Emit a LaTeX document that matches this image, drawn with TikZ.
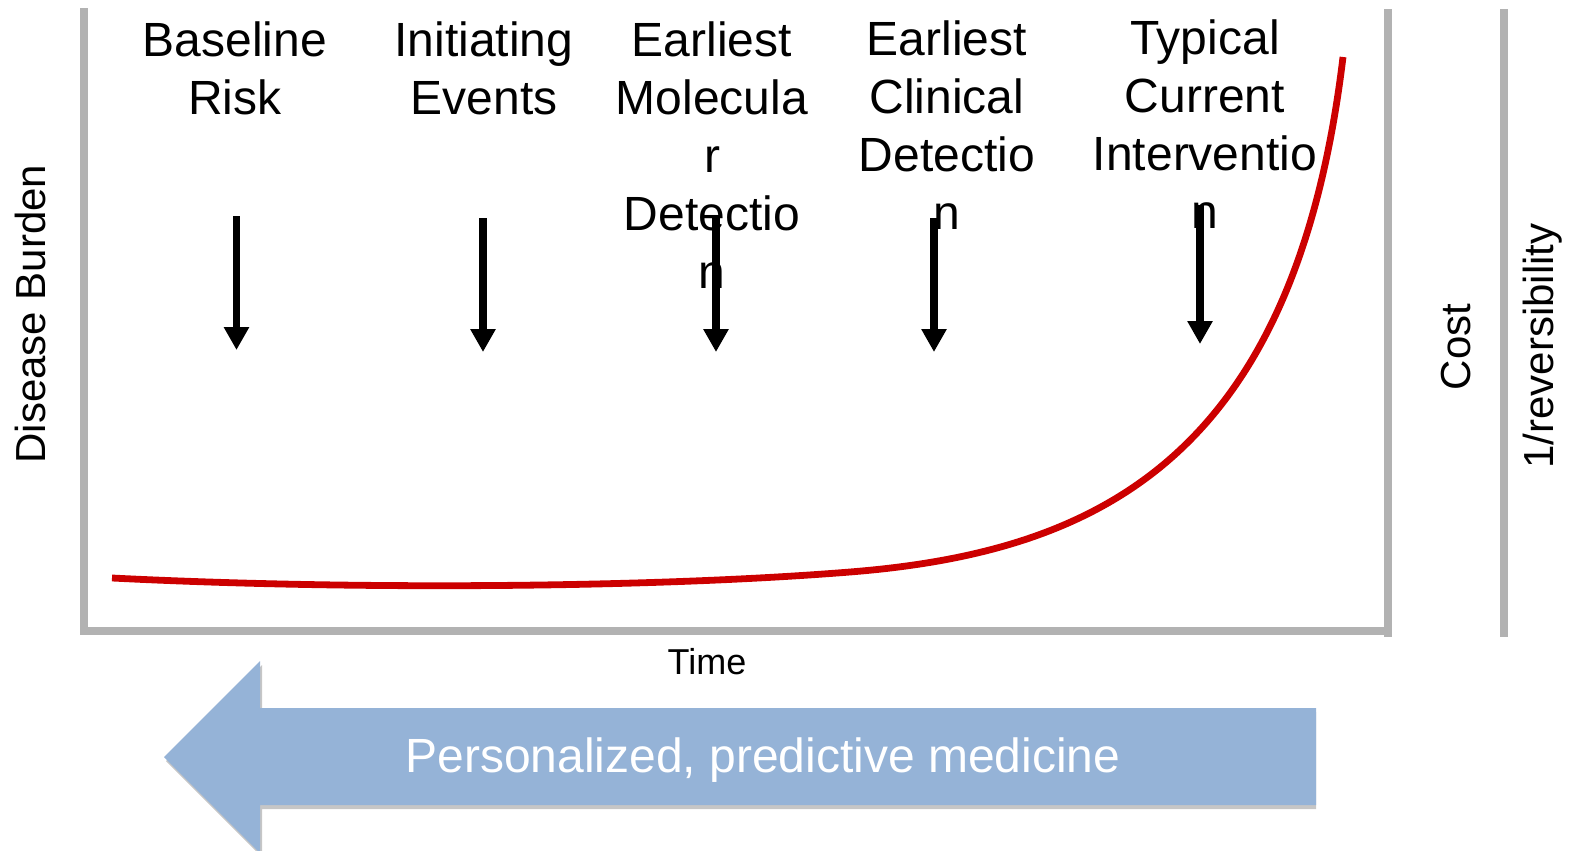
\documentclass[tikz,border=0pt]{standalone}
\usepackage{fontspec}
\setmainfont{Liberation Sans}
\usetikzlibrary{arrows.meta}
\definecolor{axisgray}{HTML}{B2B2B2}
\definecolor{burdenred}{HTML}{CC0000}
\definecolor{bandblue}{HTML}{95B3D7}
\definecolor{shadowgray}{HTML}{C6C6C6}
\begin{document}
\begin{tikzpicture}[x=0.5pt,y=-0.5pt,
  axisline/.style={draw=axisgray,line width=3.8pt},
  stagelabel/.style={anchor=north,inner sep=0pt,align=center,
    font=\fontsize{24}{29}\selectfont},
  sidelabel/.style={anchor=base,inner sep=0pt,rotate=90,
    font=\fontsize{21}{25}\selectfont},
  stagearrow/.style={line width=3.6pt,
    -{Triangle[width=12pt,length=11.5pt]}},
  burden/.style={draw=burdenred,line width=3.4pt}]
\useasboundingbox (0,0) rectangle (1571,851);

% axes and the two side scales
\draw[axisline] (84,8) -- (84,631) -- (1388,631);
\draw[axisline] (1388,9) -- (1388,637);
\draw[axisline] (1504,9) -- (1504,637);

% disease burden over time: flat, then rising steeply
\coordinate (b0) at (112,578);
\coordinate (b1) at (850,572);
\coordinate (b2) at (1343,57);
\draw[burden] (b0) .. controls (350,590) and (650,588) .. (b1)
  .. controls (1100,552) and (1295,457) .. (b2);

% stage labels
\node[stagelabel] (risk) at (235,21) {Baseline\\Risk};
\node[stagelabel] (events) at (484,21) {Initiating\\Events};
\node[stagelabel] (molecular) at (712,21) {Earliest\\Molecula\\r\\Detectio\\n};
\node[stagelabel] (clinical) at (947,20) {Earliest\\Clinical\\Detectio\\n};
\node[stagelabel] (intervention) at (1205,19) {Typical\\Current\\Interventio\\n};

% stage markers
\coordinate (r1) at (236.5,216); \coordinate (r2) at (236.5,350);
\coordinate (e1) at (483,218);   \coordinate (e2) at (483,352);
\coordinate (m1) at (716,218);   \coordinate (m2) at (716,352);
\coordinate (c1) at (934,218);   \coordinate (c2) at (934,352);
\coordinate (i1) at (1200,205);  \coordinate (i2) at (1200,344);
\draw[stagearrow] (r1) -- (r2);
\draw[stagearrow] (e1) -- (e2);
\draw[stagearrow] (m1) -- (m2);
\draw[stagearrow] (c1) -- (c2);
\draw[stagearrow] (i1) -- (i2);

% axis titles
\node[sidelabel] (burdenlabel) at (46,314) {Disease Burden};
\node[sidelabel] (costlabel) at (1470,347) {Cost};
\node[sidelabel] (revlabel) at (1553,346) {1/reversibility};
\node[anchor=base,inner sep=0pt,font=\fontsize{18}{22}\selectfont]
  (timelabel) at (707,674) {Time};

% direction band
\fill[shadowgray] (166,761) -- (262,665) -- (262,712) -- (1316,712)
  -- (1316,809) -- (262,809) -- (262,857) -- cycle;
\fill[bandblue] (164,757) -- (260,661) -- (260,708) -- (1316,708)
  -- (1316,805) -- (260,805) -- (260,853) -- cycle;
\node[anchor=base,inner sep=0pt,text=white,font=\fontsize{24}{29}\selectfont]
  (bandlabel) at (763,772) {Personalized, predictive medicine};
\end{tikzpicture}
\end{document}
